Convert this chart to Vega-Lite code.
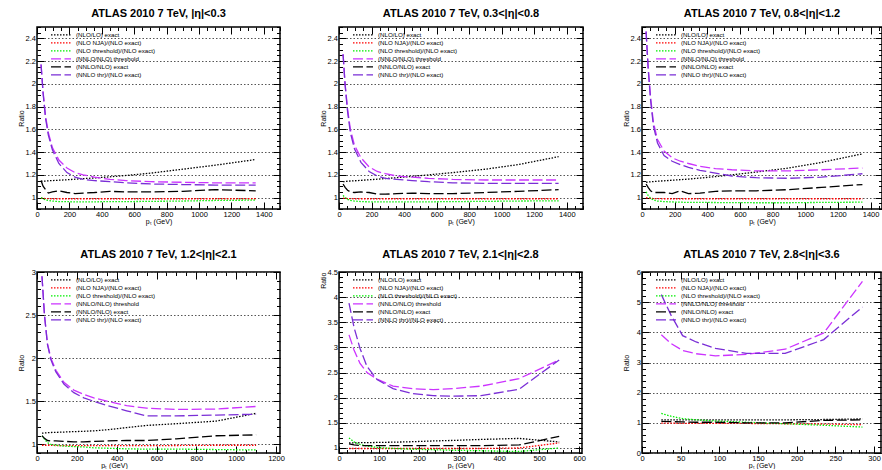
{
"$schema":"https://vega.github.io/schema/vega-lite/v6.json",
"background":"white",
"padding":{"left":16,"top":6,"right":0,"bottom":0},
"config":{
 "font":"Liberation Sans",
 "view":{"stroke":"#000","strokeWidth":1.5},
 "axis":{"domain":false,"format":"~r","labelFont":"Liberation Sans","labelFontSize":7.5,"labelColor":"#000","labelOverlap":false,"labelFlush":false,"titleFont":"Liberation Sans","titleFontSize":7,"titleFontWeight":"normal","titleColor":"#000","tickColor":"#000","tickWidth":1,"tickSize":-7,"labelPadding":8.5,"grid":false,"gridColor":"#555","gridDash":[1.5,2],"gridWidth":1,"titlePadding":-1},
 "title":{"font":"Liberation Sans","fontSize":11,"fontWeight":"bold","color":"#000","anchor":"middle","frame":"group","baseline":"alphabetic","offset":8},
 "legend":{"labelFont":"Liberation Sans","labelFontSize":6.2,"labelColor":"#000","symbolType":"stroke","symbolSize":400,"symbolStrokeWidth":1.3,"clipHeight":7.8,"rowPadding":0,"labelOffset":4,"padding":0,"offset":0},
 "line":{"strokeWidth":1.3,"strokeCap":"butt"}
},
"datasets":{
"p1":[
{"s":"(NLO/LO) exact","x":25,"y":1.143},{"s":"(NLO/LO) exact","x":37.5,"y":1.145},{"s":"(NLO/LO) exact","x":52.5,"y":1.146},{"s":"(NLO/LO) exact","x":70,"y":1.148},{"s":"(NLO/LO) exact","x":95,"y":1.15},{"s":"(NLO/LO) exact","x":135,"y":1.153},{"s":"(NLO/LO) exact","x":185,"y":1.157},{"s":"(NLO/LO) exact","x":235,"y":1.162},{"s":"(NLO/LO) exact","x":285,"y":1.167},{"s":"(NLO/LO) exact","x":355,"y":1.173},{"s":"(NLO/LO) exact","x":450,"y":1.183},{"s":"(NLO/LO) exact","x":550,"y":1.195},{"s":"(NLO/LO) exact","x":700,"y":1.215},{"s":"(NLO/LO) exact","x":900,"y":1.25},{"s":"(NLO/LO) exact","x":1100,"y":1.285},{"s":"(NLO/LO) exact","x":1350,"y":1.335},
{"s":"(NLO NJA)/(NLO exact)","x":25,"y":0.995},{"s":"(NLO NJA)/(NLO exact)","x":37.5,"y":0.993},{"s":"(NLO NJA)/(NLO exact)","x":52.5,"y":0.992},{"s":"(NLO NJA)/(NLO exact)","x":70,"y":0.991},{"s":"(NLO NJA)/(NLO exact)","x":95,"y":0.99},{"s":"(NLO NJA)/(NLO exact)","x":135,"y":0.99},{"s":"(NLO NJA)/(NLO exact)","x":185,"y":0.99},{"s":"(NLO NJA)/(NLO exact)","x":235,"y":0.99},{"s":"(NLO NJA)/(NLO exact)","x":285,"y":0.99},{"s":"(NLO NJA)/(NLO exact)","x":355,"y":0.99},{"s":"(NLO NJA)/(NLO exact)","x":450,"y":0.99},{"s":"(NLO NJA)/(NLO exact)","x":550,"y":0.99},{"s":"(NLO NJA)/(NLO exact)","x":700,"y":0.99},{"s":"(NLO NJA)/(NLO exact)","x":900,"y":0.99},{"s":"(NLO NJA)/(NLO exact)","x":1100,"y":0.99},{"s":"(NLO NJA)/(NLO exact)","x":1350,"y":0.99},
{"s":"(NLO threshold)/(NLO exact)","x":25,"y":1.0},{"s":"(NLO threshold)/(NLO exact)","x":37.5,"y":0.99},{"s":"(NLO threshold)/(NLO exact)","x":52.5,"y":0.98},{"s":"(NLO threshold)/(NLO exact)","x":70,"y":0.975},{"s":"(NLO threshold)/(NLO exact)","x":95,"y":0.97},{"s":"(NLO threshold)/(NLO exact)","x":135,"y":0.965},{"s":"(NLO threshold)/(NLO exact)","x":185,"y":0.965},{"s":"(NLO threshold)/(NLO exact)","x":235,"y":0.962},{"s":"(NLO threshold)/(NLO exact)","x":285,"y":0.962},{"s":"(NLO threshold)/(NLO exact)","x":355,"y":0.963},{"s":"(NLO threshold)/(NLO exact)","x":450,"y":0.965},{"s":"(NLO threshold)/(NLO exact)","x":550,"y":0.965},{"s":"(NLO threshold)/(NLO exact)","x":700,"y":0.967},{"s":"(NLO threshold)/(NLO exact)","x":900,"y":0.97},{"s":"(NLO threshold)/(NLO exact)","x":1100,"y":0.975},{"s":"(NLO threshold)/(NLO exact)","x":1350,"y":0.978},
{"s":"(NNLO/NLO) threshold","x":25,"y":2.17},{"s":"(NNLO/NLO) threshold","x":37.5,"y":1.93},{"s":"(NNLO/NLO) threshold","x":52.5,"y":1.72},{"s":"(NNLO/NLO) threshold","x":70,"y":1.57},{"s":"(NNLO/NLO) threshold","x":95,"y":1.44},{"s":"(NNLO/NLO) threshold","x":135,"y":1.33},{"s":"(NNLO/NLO) threshold","x":185,"y":1.26},{"s":"(NNLO/NLO) threshold","x":235,"y":1.22},{"s":"(NNLO/NLO) threshold","x":285,"y":1.2},{"s":"(NNLO/NLO) threshold","x":355,"y":1.18},{"s":"(NNLO/NLO) threshold","x":450,"y":1.16},{"s":"(NNLO/NLO) threshold","x":550,"y":1.15},{"s":"(NNLO/NLO) threshold","x":700,"y":1.14},{"s":"(NNLO/NLO) threshold","x":900,"y":1.135},{"s":"(NNLO/NLO) threshold","x":1100,"y":1.13},{"s":"(NNLO/NLO) threshold","x":1350,"y":1.13},
{"s":"(NNLO/NLO) exact","x":25,"y":1.15},{"s":"(NNLO/NLO) exact","x":37.5,"y":1.1},{"s":"(NNLO/NLO) exact","x":52.5,"y":1.07},{"s":"(NNLO/NLO) exact","x":70,"y":1.04},{"s":"(NNLO/NLO) exact","x":95,"y":1.05},{"s":"(NNLO/NLO) exact","x":135,"y":1.06},{"s":"(NNLO/NLO) exact","x":185,"y":1.045},{"s":"(NNLO/NLO) exact","x":235,"y":1.035},{"s":"(NNLO/NLO) exact","x":285,"y":1.04},{"s":"(NNLO/NLO) exact","x":355,"y":1.045},{"s":"(NNLO/NLO) exact","x":450,"y":1.055},{"s":"(NNLO/NLO) exact","x":550,"y":1.05},{"s":"(NNLO/NLO) exact","x":700,"y":1.05},{"s":"(NNLO/NLO) exact","x":900,"y":1.055},{"s":"(NNLO/NLO) exact","x":1100,"y":1.07},{"s":"(NNLO/NLO) exact","x":1350,"y":1.06},
{"s":"(NNLO thr)/(NLO exact)","x":25,"y":2.17},{"s":"(NNLO thr)/(NLO exact)","x":37.5,"y":1.92},{"s":"(NNLO thr)/(NLO exact)","x":52.5,"y":1.7},{"s":"(NNLO thr)/(NLO exact)","x":70,"y":1.55},{"s":"(NNLO thr)/(NLO exact)","x":95,"y":1.42},{"s":"(NNLO thr)/(NLO exact)","x":135,"y":1.3},{"s":"(NNLO thr)/(NLO exact)","x":185,"y":1.22},{"s":"(NNLO thr)/(NLO exact)","x":235,"y":1.18},{"s":"(NNLO thr)/(NLO exact)","x":285,"y":1.16},{"s":"(NNLO thr)/(NLO exact)","x":355,"y":1.15},{"s":"(NNLO thr)/(NLO exact)","x":450,"y":1.14},{"s":"(NNLO thr)/(NLO exact)","x":550,"y":1.13},{"s":"(NNLO thr)/(NLO exact)","x":700,"y":1.12},{"s":"(NNLO thr)/(NLO exact)","x":900,"y":1.115},{"s":"(NNLO thr)/(NLO exact)","x":1100,"y":1.11},{"s":"(NNLO thr)/(NLO exact)","x":1350,"y":1.11}
],
"p2":[
{"s":"(NLO/LO) exact","x":25,"y":1.14},{"s":"(NLO/LO) exact","x":37.5,"y":1.142},{"s":"(NLO/LO) exact","x":52.5,"y":1.144},{"s":"(NLO/LO) exact","x":70,"y":1.146},{"s":"(NLO/LO) exact","x":95,"y":1.148},{"s":"(NLO/LO) exact","x":135,"y":1.152},{"s":"(NLO/LO) exact","x":185,"y":1.157},{"s":"(NLO/LO) exact","x":235,"y":1.162},{"s":"(NLO/LO) exact","x":285,"y":1.168},{"s":"(NLO/LO) exact","x":355,"y":1.175},{"s":"(NLO/LO) exact","x":450,"y":1.187},{"s":"(NLO/LO) exact","x":550,"y":1.2},{"s":"(NLO/LO) exact","x":700,"y":1.22},{"s":"(NLO/LO) exact","x":900,"y":1.25},{"s":"(NLO/LO) exact","x":1100,"y":1.29},{"s":"(NLO/LO) exact","x":1350,"y":1.36},
{"s":"(NLO NJA)/(NLO exact)","x":25,"y":0.995},{"s":"(NLO NJA)/(NLO exact)","x":37.5,"y":0.993},{"s":"(NLO NJA)/(NLO exact)","x":52.5,"y":0.992},{"s":"(NLO NJA)/(NLO exact)","x":70,"y":0.991},{"s":"(NLO NJA)/(NLO exact)","x":95,"y":0.99},{"s":"(NLO NJA)/(NLO exact)","x":135,"y":0.99},{"s":"(NLO NJA)/(NLO exact)","x":185,"y":0.99},{"s":"(NLO NJA)/(NLO exact)","x":235,"y":0.99},{"s":"(NLO NJA)/(NLO exact)","x":285,"y":0.99},{"s":"(NLO NJA)/(NLO exact)","x":355,"y":0.99},{"s":"(NLO NJA)/(NLO exact)","x":450,"y":0.99},{"s":"(NLO NJA)/(NLO exact)","x":550,"y":0.99},{"s":"(NLO NJA)/(NLO exact)","x":700,"y":0.99},{"s":"(NLO NJA)/(NLO exact)","x":900,"y":0.99},{"s":"(NLO NJA)/(NLO exact)","x":1100,"y":0.99},{"s":"(NLO NJA)/(NLO exact)","x":1350,"y":0.99},
{"s":"(NLO threshold)/(NLO exact)","x":25,"y":1.02},{"s":"(NLO threshold)/(NLO exact)","x":37.5,"y":1.0},{"s":"(NLO threshold)/(NLO exact)","x":52.5,"y":0.985},{"s":"(NLO threshold)/(NLO exact)","x":70,"y":0.975},{"s":"(NLO threshold)/(NLO exact)","x":95,"y":0.97},{"s":"(NLO threshold)/(NLO exact)","x":135,"y":0.965},{"s":"(NLO threshold)/(NLO exact)","x":185,"y":0.963},{"s":"(NLO threshold)/(NLO exact)","x":235,"y":0.962},{"s":"(NLO threshold)/(NLO exact)","x":285,"y":0.962},{"s":"(NLO threshold)/(NLO exact)","x":355,"y":0.962},{"s":"(NLO threshold)/(NLO exact)","x":450,"y":0.962},{"s":"(NLO threshold)/(NLO exact)","x":550,"y":0.963},{"s":"(NLO threshold)/(NLO exact)","x":700,"y":0.965},{"s":"(NLO threshold)/(NLO exact)","x":900,"y":0.967},{"s":"(NLO threshold)/(NLO exact)","x":1100,"y":0.97},{"s":"(NLO threshold)/(NLO exact)","x":1350,"y":0.972},
{"s":"(NNLO/NLO) threshold","x":25,"y":2.26},{"s":"(NNLO/NLO) threshold","x":37.5,"y":2.0},{"s":"(NNLO/NLO) threshold","x":52.5,"y":1.78},{"s":"(NNLO/NLO) threshold","x":70,"y":1.6},{"s":"(NNLO/NLO) threshold","x":95,"y":1.46},{"s":"(NNLO/NLO) threshold","x":135,"y":1.35},{"s":"(NNLO/NLO) threshold","x":185,"y":1.27},{"s":"(NNLO/NLO) threshold","x":235,"y":1.23},{"s":"(NNLO/NLO) threshold","x":285,"y":1.21},{"s":"(NNLO/NLO) threshold","x":355,"y":1.19},{"s":"(NNLO/NLO) threshold","x":450,"y":1.18},{"s":"(NNLO/NLO) threshold","x":550,"y":1.17},{"s":"(NNLO/NLO) threshold","x":700,"y":1.16},{"s":"(NNLO/NLO) threshold","x":900,"y":1.155},{"s":"(NNLO/NLO) threshold","x":1100,"y":1.155},{"s":"(NNLO/NLO) threshold","x":1350,"y":1.155},
{"s":"(NNLO/NLO) exact","x":25,"y":1.12},{"s":"(NNLO/NLO) exact","x":37.5,"y":1.09},{"s":"(NNLO/NLO) exact","x":52.5,"y":1.065},{"s":"(NNLO/NLO) exact","x":70,"y":1.05},{"s":"(NNLO/NLO) exact","x":95,"y":1.045},{"s":"(NNLO/NLO) exact","x":135,"y":1.05},{"s":"(NNLO/NLO) exact","x":185,"y":1.045},{"s":"(NNLO/NLO) exact","x":235,"y":1.03},{"s":"(NNLO/NLO) exact","x":285,"y":1.03},{"s":"(NNLO/NLO) exact","x":355,"y":1.035},{"s":"(NNLO/NLO) exact","x":450,"y":1.04},{"s":"(NNLO/NLO) exact","x":550,"y":1.035},{"s":"(NNLO/NLO) exact","x":700,"y":1.035},{"s":"(NNLO/NLO) exact","x":900,"y":1.045},{"s":"(NNLO/NLO) exact","x":1100,"y":1.055},{"s":"(NNLO/NLO) exact","x":1350,"y":1.07},
{"s":"(NNLO thr)/(NLO exact)","x":25,"y":2.26},{"s":"(NNLO thr)/(NLO exact)","x":37.5,"y":1.99},{"s":"(NNLO thr)/(NLO exact)","x":52.5,"y":1.76},{"s":"(NNLO thr)/(NLO exact)","x":70,"y":1.57},{"s":"(NNLO thr)/(NLO exact)","x":95,"y":1.43},{"s":"(NNLO thr)/(NLO exact)","x":135,"y":1.31},{"s":"(NNLO thr)/(NLO exact)","x":185,"y":1.23},{"s":"(NNLO thr)/(NLO exact)","x":235,"y":1.19},{"s":"(NNLO thr)/(NLO exact)","x":285,"y":1.17},{"s":"(NNLO thr)/(NLO exact)","x":355,"y":1.16},{"s":"(NNLO thr)/(NLO exact)","x":450,"y":1.15},{"s":"(NNLO thr)/(NLO exact)","x":550,"y":1.14},{"s":"(NNLO thr)/(NLO exact)","x":700,"y":1.13},{"s":"(NNLO thr)/(NLO exact)","x":900,"y":1.125},{"s":"(NNLO thr)/(NLO exact)","x":1100,"y":1.125},{"s":"(NNLO thr)/(NLO exact)","x":1350,"y":1.125}
],
"p3":[
{"s":"(NLO/LO) exact","x":25,"y":1.135},{"s":"(NLO/LO) exact","x":37.5,"y":1.137},{"s":"(NLO/LO) exact","x":52.5,"y":1.139},{"s":"(NLO/LO) exact","x":70,"y":1.141},{"s":"(NLO/LO) exact","x":95,"y":1.144},{"s":"(NLO/LO) exact","x":135,"y":1.148},{"s":"(NLO/LO) exact","x":185,"y":1.153},{"s":"(NLO/LO) exact","x":235,"y":1.158},{"s":"(NLO/LO) exact","x":285,"y":1.163},{"s":"(NLO/LO) exact","x":355,"y":1.172},{"s":"(NLO/LO) exact","x":450,"y":1.185},{"s":"(NLO/LO) exact","x":550,"y":1.2},{"s":"(NLO/LO) exact","x":700,"y":1.225},{"s":"(NLO/LO) exact","x":900,"y":1.26},{"s":"(NLO/LO) exact","x":1100,"y":1.31},{"s":"(NLO/LO) exact","x":1350,"y":1.385},
{"s":"(NLO NJA)/(NLO exact)","x":25,"y":1.0},{"s":"(NLO NJA)/(NLO exact)","x":37.5,"y":0.995},{"s":"(NLO NJA)/(NLO exact)","x":52.5,"y":0.993},{"s":"(NLO NJA)/(NLO exact)","x":70,"y":0.992},{"s":"(NLO NJA)/(NLO exact)","x":95,"y":0.991},{"s":"(NLO NJA)/(NLO exact)","x":135,"y":0.99},{"s":"(NLO NJA)/(NLO exact)","x":185,"y":0.99},{"s":"(NLO NJA)/(NLO exact)","x":235,"y":0.99},{"s":"(NLO NJA)/(NLO exact)","x":285,"y":0.99},{"s":"(NLO NJA)/(NLO exact)","x":355,"y":0.99},{"s":"(NLO NJA)/(NLO exact)","x":450,"y":0.99},{"s":"(NLO NJA)/(NLO exact)","x":550,"y":0.99},{"s":"(NLO NJA)/(NLO exact)","x":700,"y":0.99},{"s":"(NLO NJA)/(NLO exact)","x":900,"y":0.99},{"s":"(NLO NJA)/(NLO exact)","x":1100,"y":0.99},{"s":"(NLO NJA)/(NLO exact)","x":1350,"y":0.99},
{"s":"(NLO threshold)/(NLO exact)","x":25,"y":1.05},{"s":"(NLO threshold)/(NLO exact)","x":37.5,"y":1.02},{"s":"(NLO threshold)/(NLO exact)","x":52.5,"y":0.995},{"s":"(NLO threshold)/(NLO exact)","x":70,"y":0.98},{"s":"(NLO threshold)/(NLO exact)","x":95,"y":0.97},{"s":"(NLO threshold)/(NLO exact)","x":135,"y":0.965},{"s":"(NLO threshold)/(NLO exact)","x":185,"y":0.962},{"s":"(NLO threshold)/(NLO exact)","x":235,"y":0.96},{"s":"(NLO threshold)/(NLO exact)","x":285,"y":0.958},{"s":"(NLO threshold)/(NLO exact)","x":355,"y":0.958},{"s":"(NLO threshold)/(NLO exact)","x":450,"y":0.957},{"s":"(NLO threshold)/(NLO exact)","x":550,"y":0.956},{"s":"(NLO threshold)/(NLO exact)","x":700,"y":0.955},{"s":"(NLO threshold)/(NLO exact)","x":900,"y":0.955},{"s":"(NLO threshold)/(NLO exact)","x":1100,"y":0.958},{"s":"(NLO threshold)/(NLO exact)","x":1350,"y":0.96},
{"s":"(NNLO/NLO) threshold","x":25,"y":2.46},{"s":"(NNLO/NLO) threshold","x":37.5,"y":2.15},{"s":"(NNLO/NLO) threshold","x":52.5,"y":1.88},{"s":"(NNLO/NLO) threshold","x":70,"y":1.66},{"s":"(NNLO/NLO) threshold","x":95,"y":1.51},{"s":"(NNLO/NLO) threshold","x":135,"y":1.41},{"s":"(NNLO/NLO) threshold","x":185,"y":1.35},{"s":"(NNLO/NLO) threshold","x":235,"y":1.32},{"s":"(NNLO/NLO) threshold","x":285,"y":1.3},{"s":"(NNLO/NLO) threshold","x":355,"y":1.275},{"s":"(NNLO/NLO) threshold","x":450,"y":1.255},{"s":"(NNLO/NLO) threshold","x":550,"y":1.245},{"s":"(NNLO/NLO) threshold","x":700,"y":1.235},{"s":"(NNLO/NLO) threshold","x":900,"y":1.235},{"s":"(NNLO/NLO) threshold","x":1100,"y":1.245},{"s":"(NNLO/NLO) threshold","x":1350,"y":1.26},
{"s":"(NNLO/NLO) exact","x":25,"y":1.12},{"s":"(NNLO/NLO) exact","x":37.5,"y":1.09},{"s":"(NNLO/NLO) exact","x":52.5,"y":1.06},{"s":"(NNLO/NLO) exact","x":70,"y":1.045},{"s":"(NNLO/NLO) exact","x":95,"y":1.045},{"s":"(NNLO/NLO) exact","x":135,"y":1.045},{"s":"(NNLO/NLO) exact","x":185,"y":1.035},{"s":"(NNLO/NLO) exact","x":235,"y":1.06},{"s":"(NNLO/NLO) exact","x":285,"y":1.035},{"s":"(NNLO/NLO) exact","x":355,"y":1.04},{"s":"(NNLO/NLO) exact","x":450,"y":1.055},{"s":"(NNLO/NLO) exact","x":550,"y":1.06},{"s":"(NNLO/NLO) exact","x":700,"y":1.06},{"s":"(NNLO/NLO) exact","x":900,"y":1.07},{"s":"(NNLO/NLO) exact","x":1100,"y":1.09},{"s":"(NNLO/NLO) exact","x":1350,"y":1.115},
{"s":"(NNLO thr)/(NLO exact)","x":25,"y":2.46},{"s":"(NNLO thr)/(NLO exact)","x":37.5,"y":2.14},{"s":"(NNLO thr)/(NLO exact)","x":52.5,"y":1.86},{"s":"(NNLO thr)/(NLO exact)","x":70,"y":1.63},{"s":"(NNLO thr)/(NLO exact)","x":95,"y":1.48},{"s":"(NNLO thr)/(NLO exact)","x":135,"y":1.37},{"s":"(NNLO thr)/(NLO exact)","x":185,"y":1.32},{"s":"(NNLO thr)/(NLO exact)","x":235,"y":1.29},{"s":"(NNLO thr)/(NLO exact)","x":285,"y":1.265},{"s":"(NNLO thr)/(NLO exact)","x":355,"y":1.24},{"s":"(NNLO thr)/(NLO exact)","x":450,"y":1.215},{"s":"(NNLO thr)/(NLO exact)","x":550,"y":1.19},{"s":"(NNLO thr)/(NLO exact)","x":700,"y":1.175},{"s":"(NNLO thr)/(NLO exact)","x":900,"y":1.17},{"s":"(NNLO thr)/(NLO exact)","x":1100,"y":1.18},{"s":"(NNLO thr)/(NLO exact)","x":1350,"y":1.21}
],
"p4":[
{"s":"(NLO/LO) exact","x":25,"y":1.13},{"s":"(NLO/LO) exact","x":37.5,"y":1.132},{"s":"(NLO/LO) exact","x":52.5,"y":1.135},{"s":"(NLO/LO) exact","x":70,"y":1.138},{"s":"(NLO/LO) exact","x":95,"y":1.14},{"s":"(NLO/LO) exact","x":135,"y":1.143},{"s":"(NLO/LO) exact","x":185,"y":1.148},{"s":"(NLO/LO) exact","x":235,"y":1.152},{"s":"(NLO/LO) exact","x":285,"y":1.157},{"s":"(NLO/LO) exact","x":355,"y":1.17},{"s":"(NLO/LO) exact","x":450,"y":1.195},{"s":"(NLO/LO) exact","x":550,"y":1.22},{"s":"(NLO/LO) exact","x":700,"y":1.24},{"s":"(NLO/LO) exact","x":900,"y":1.27},{"s":"(NLO/LO) exact","x":1100,"y":1.36},
{"s":"(NLO NJA)/(NLO exact)","x":25,"y":0.99},{"s":"(NLO NJA)/(NLO exact)","x":37.5,"y":0.99},{"s":"(NLO NJA)/(NLO exact)","x":52.5,"y":0.99},{"s":"(NLO NJA)/(NLO exact)","x":70,"y":0.988},{"s":"(NLO NJA)/(NLO exact)","x":95,"y":0.987},{"s":"(NLO NJA)/(NLO exact)","x":135,"y":0.986},{"s":"(NLO NJA)/(NLO exact)","x":185,"y":0.985},{"s":"(NLO NJA)/(NLO exact)","x":235,"y":0.985},{"s":"(NLO NJA)/(NLO exact)","x":285,"y":0.985},{"s":"(NLO NJA)/(NLO exact)","x":355,"y":0.985},{"s":"(NLO NJA)/(NLO exact)","x":450,"y":0.985},{"s":"(NLO NJA)/(NLO exact)","x":550,"y":0.985},{"s":"(NLO NJA)/(NLO exact)","x":700,"y":0.987},{"s":"(NLO NJA)/(NLO exact)","x":900,"y":0.99},{"s":"(NLO NJA)/(NLO exact)","x":1100,"y":0.99},
{"s":"(NLO threshold)/(NLO exact)","x":25,"y":1.1},{"s":"(NLO threshold)/(NLO exact)","x":37.5,"y":1.06},{"s":"(NLO threshold)/(NLO exact)","x":52.5,"y":1.02},{"s":"(NLO threshold)/(NLO exact)","x":70,"y":1.0},{"s":"(NLO threshold)/(NLO exact)","x":95,"y":0.99},{"s":"(NLO threshold)/(NLO exact)","x":135,"y":0.98},{"s":"(NLO threshold)/(NLO exact)","x":185,"y":0.975},{"s":"(NLO threshold)/(NLO exact)","x":235,"y":0.97},{"s":"(NLO threshold)/(NLO exact)","x":285,"y":0.96},{"s":"(NLO threshold)/(NLO exact)","x":355,"y":0.955},{"s":"(NLO threshold)/(NLO exact)","x":450,"y":0.948},{"s":"(NLO threshold)/(NLO exact)","x":550,"y":0.945},{"s":"(NLO threshold)/(NLO exact)","x":700,"y":0.945},{"s":"(NLO threshold)/(NLO exact)","x":900,"y":0.94},{"s":"(NLO threshold)/(NLO exact)","x":1100,"y":0.935},
{"s":"(NNLO/NLO) threshold","x":25,"y":2.95},{"s":"(NNLO/NLO) threshold","x":37.5,"y":2.5},{"s":"(NNLO/NLO) threshold","x":52.5,"y":2.17},{"s":"(NNLO/NLO) threshold","x":70,"y":2.0},{"s":"(NNLO/NLO) threshold","x":95,"y":1.86},{"s":"(NNLO/NLO) threshold","x":135,"y":1.72},{"s":"(NNLO/NLO) threshold","x":185,"y":1.63},{"s":"(NNLO/NLO) threshold","x":235,"y":1.58},{"s":"(NNLO/NLO) threshold","x":285,"y":1.54},{"s":"(NNLO/NLO) threshold","x":355,"y":1.5},{"s":"(NNLO/NLO) threshold","x":450,"y":1.45},{"s":"(NNLO/NLO) threshold","x":550,"y":1.42},{"s":"(NNLO/NLO) threshold","x":700,"y":1.405},{"s":"(NNLO/NLO) threshold","x":900,"y":1.41},{"s":"(NNLO/NLO) threshold","x":1100,"y":1.44},
{"s":"(NNLO/NLO) exact","x":25,"y":1.1},{"s":"(NNLO/NLO) exact","x":37.5,"y":1.07},{"s":"(NNLO/NLO) exact","x":52.5,"y":1.045},{"s":"(NNLO/NLO) exact","x":70,"y":1.04},{"s":"(NNLO/NLO) exact","x":95,"y":1.04},{"s":"(NNLO/NLO) exact","x":135,"y":1.035},{"s":"(NNLO/NLO) exact","x":185,"y":1.03},{"s":"(NNLO/NLO) exact","x":235,"y":1.03},{"s":"(NNLO/NLO) exact","x":285,"y":1.035},{"s":"(NNLO/NLO) exact","x":355,"y":1.04},{"s":"(NNLO/NLO) exact","x":450,"y":1.045},{"s":"(NNLO/NLO) exact","x":550,"y":1.045},{"s":"(NNLO/NLO) exact","x":700,"y":1.065},{"s":"(NNLO/NLO) exact","x":900,"y":1.1},{"s":"(NNLO/NLO) exact","x":1100,"y":1.11},
{"s":"(NNLO thr)/(NLO exact)","x":25,"y":2.95},{"s":"(NNLO thr)/(NLO exact)","x":37.5,"y":2.5},{"s":"(NNLO thr)/(NLO exact)","x":52.5,"y":2.16},{"s":"(NNLO thr)/(NLO exact)","x":70,"y":1.98},{"s":"(NNLO thr)/(NLO exact)","x":95,"y":1.84},{"s":"(NNLO thr)/(NLO exact)","x":135,"y":1.7},{"s":"(NNLO thr)/(NLO exact)","x":185,"y":1.6},{"s":"(NNLO thr)/(NLO exact)","x":235,"y":1.54},{"s":"(NNLO thr)/(NLO exact)","x":285,"y":1.5},{"s":"(NNLO thr)/(NLO exact)","x":355,"y":1.45},{"s":"(NNLO thr)/(NLO exact)","x":450,"y":1.39},{"s":"(NNLO thr)/(NLO exact)","x":550,"y":1.33},{"s":"(NNLO thr)/(NLO exact)","x":700,"y":1.33},{"s":"(NNLO thr)/(NLO exact)","x":900,"y":1.34},{"s":"(NNLO thr)/(NLO exact)","x":1100,"y":1.35}
],
"p5":[
{"s":"(NLO/LO) exact","x":25,"y":1.1},{"s":"(NLO/LO) exact","x":37.5,"y":1.1},{"s":"(NLO/LO) exact","x":52.5,"y":1.105},{"s":"(NLO/LO) exact","x":70,"y":1.105},{"s":"(NLO/LO) exact","x":95,"y":1.11},{"s":"(NLO/LO) exact","x":135,"y":1.115},{"s":"(NLO/LO) exact","x":185,"y":1.125},{"s":"(NLO/LO) exact","x":235,"y":1.14},{"s":"(NLO/LO) exact","x":285,"y":1.15},{"s":"(NLO/LO) exact","x":355,"y":1.17},{"s":"(NLO/LO) exact","x":450,"y":1.19},{"s":"(NLO/LO) exact","x":550,"y":1.12},
{"s":"(NLO NJA)/(NLO exact)","x":25,"y":0.99},{"s":"(NLO NJA)/(NLO exact)","x":37.5,"y":0.99},{"s":"(NLO NJA)/(NLO exact)","x":52.5,"y":0.99},{"s":"(NLO NJA)/(NLO exact)","x":70,"y":0.99},{"s":"(NLO NJA)/(NLO exact)","x":95,"y":0.99},{"s":"(NLO NJA)/(NLO exact)","x":135,"y":0.99},{"s":"(NLO NJA)/(NLO exact)","x":185,"y":0.99},{"s":"(NLO NJA)/(NLO exact)","x":235,"y":0.99},{"s":"(NLO NJA)/(NLO exact)","x":285,"y":0.99},{"s":"(NLO NJA)/(NLO exact)","x":355,"y":0.99},{"s":"(NLO NJA)/(NLO exact)","x":450,"y":1.0},{"s":"(NLO NJA)/(NLO exact)","x":550,"y":1.1},
{"s":"(NLO threshold)/(NLO exact)","x":25,"y":1.2},{"s":"(NLO threshold)/(NLO exact)","x":37.5,"y":1.12},{"s":"(NLO threshold)/(NLO exact)","x":52.5,"y":1.07},{"s":"(NLO threshold)/(NLO exact)","x":70,"y":1.04},{"s":"(NLO threshold)/(NLO exact)","x":95,"y":1.01},{"s":"(NLO threshold)/(NLO exact)","x":135,"y":0.99},{"s":"(NLO threshold)/(NLO exact)","x":185,"y":0.975},{"s":"(NLO threshold)/(NLO exact)","x":235,"y":0.965},{"s":"(NLO threshold)/(NLO exact)","x":285,"y":0.955},{"s":"(NLO threshold)/(NLO exact)","x":355,"y":0.945},{"s":"(NLO threshold)/(NLO exact)","x":450,"y":0.93},{"s":"(NLO threshold)/(NLO exact)","x":550,"y":1.0},
{"s":"(NNLO/NLO) threshold","x":25,"y":3.25},{"s":"(NNLO/NLO) threshold","x":37.5,"y":2.95},{"s":"(NNLO/NLO) threshold","x":52.5,"y":2.68},{"s":"(NNLO/NLO) threshold","x":70,"y":2.5},{"s":"(NNLO/NLO) threshold","x":95,"y":2.37},{"s":"(NNLO/NLO) threshold","x":135,"y":2.23},{"s":"(NNLO/NLO) threshold","x":185,"y":2.18},{"s":"(NNLO/NLO) threshold","x":235,"y":2.16},{"s":"(NNLO/NLO) threshold","x":285,"y":2.18},{"s":"(NNLO/NLO) threshold","x":355,"y":2.23},{"s":"(NNLO/NLO) threshold","x":450,"y":2.38},{"s":"(NNLO/NLO) threshold","x":550,"y":2.75},
{"s":"(NNLO/NLO) exact","x":25,"y":1.08},{"s":"(NNLO/NLO) exact","x":37.5,"y":1.06},{"s":"(NNLO/NLO) exact","x":52.5,"y":1.05},{"s":"(NNLO/NLO) exact","x":70,"y":1.045},{"s":"(NNLO/NLO) exact","x":95,"y":1.045},{"s":"(NNLO/NLO) exact","x":135,"y":1.045},{"s":"(NNLO/NLO) exact","x":185,"y":1.045},{"s":"(NNLO/NLO) exact","x":235,"y":1.045},{"s":"(NNLO/NLO) exact","x":285,"y":1.045},{"s":"(NNLO/NLO) exact","x":355,"y":1.045},{"s":"(NNLO/NLO) exact","x":450,"y":1.06},{"s":"(NNLO/NLO) exact","x":550,"y":1.23},
{"s":"(NNLO thr)/(NLO exact)","x":25,"y":3.88},{"s":"(NNLO thr)/(NLO exact)","x":37.5,"y":3.4},{"s":"(NNLO thr)/(NLO exact)","x":52.5,"y":2.98},{"s":"(NNLO thr)/(NLO exact)","x":70,"y":2.62},{"s":"(NNLO thr)/(NLO exact)","x":95,"y":2.36},{"s":"(NNLO thr)/(NLO exact)","x":135,"y":2.18},{"s":"(NNLO thr)/(NLO exact)","x":185,"y":2.08},{"s":"(NNLO thr)/(NLO exact)","x":235,"y":2.04},{"s":"(NNLO thr)/(NLO exact)","x":285,"y":2.03},{"s":"(NNLO thr)/(NLO exact)","x":355,"y":2.04},{"s":"(NNLO thr)/(NLO exact)","x":450,"y":2.17},{"s":"(NNLO thr)/(NLO exact)","x":550,"y":2.75}
],
"p6":[
{"s":"(NLO/LO) exact","x":25,"y":1.1},{"s":"(NLO/LO) exact","x":37.5,"y":1.1},{"s":"(NLO/LO) exact","x":52.5,"y":1.1},{"s":"(NLO/LO) exact","x":70,"y":1.1},{"s":"(NLO/LO) exact","x":95,"y":1.1},{"s":"(NLO/LO) exact","x":135,"y":1.1},{"s":"(NLO/LO) exact","x":185,"y":1.1},{"s":"(NLO/LO) exact","x":235,"y":1.11},{"s":"(NLO/LO) exact","x":285,"y":1.13},
{"s":"(NLO NJA)/(NLO exact)","x":25,"y":0.99},{"s":"(NLO NJA)/(NLO exact)","x":37.5,"y":0.99},{"s":"(NLO NJA)/(NLO exact)","x":52.5,"y":0.98},{"s":"(NLO NJA)/(NLO exact)","x":70,"y":0.98},{"s":"(NLO NJA)/(NLO exact)","x":95,"y":0.98},{"s":"(NLO NJA)/(NLO exact)","x":135,"y":0.98},{"s":"(NLO NJA)/(NLO exact)","x":185,"y":0.97},{"s":"(NLO NJA)/(NLO exact)","x":235,"y":0.96},{"s":"(NLO NJA)/(NLO exact)","x":285,"y":0.94},
{"s":"(NLO threshold)/(NLO exact)","x":25,"y":1.31},{"s":"(NLO threshold)/(NLO exact)","x":37.5,"y":1.22},{"s":"(NLO threshold)/(NLO exact)","x":52.5,"y":1.14},{"s":"(NLO threshold)/(NLO exact)","x":70,"y":1.1},{"s":"(NLO threshold)/(NLO exact)","x":95,"y":1.06},{"s":"(NLO threshold)/(NLO exact)","x":135,"y":1.02},{"s":"(NLO threshold)/(NLO exact)","x":185,"y":0.97},{"s":"(NLO threshold)/(NLO exact)","x":235,"y":0.92},{"s":"(NLO threshold)/(NLO exact)","x":285,"y":0.86},
{"s":"(NNLO/NLO) threshold","x":25,"y":3.92},{"s":"(NNLO/NLO) threshold","x":37.5,"y":3.63},{"s":"(NNLO/NLO) threshold","x":52.5,"y":3.4},{"s":"(NNLO/NLO) threshold","x":70,"y":3.29},{"s":"(NNLO/NLO) threshold","x":95,"y":3.22},{"s":"(NNLO/NLO) threshold","x":135,"y":3.27},{"s":"(NNLO/NLO) threshold","x":185,"y":3.44},{"s":"(NNLO/NLO) threshold","x":235,"y":3.98},{"s":"(NNLO/NLO) threshold","x":285,"y":5.69},
{"s":"(NNLO/NLO) exact","x":25,"y":1.05},{"s":"(NNLO/NLO) exact","x":37.5,"y":1.04},{"s":"(NNLO/NLO) exact","x":52.5,"y":1.03},{"s":"(NNLO/NLO) exact","x":70,"y":1.02},{"s":"(NNLO/NLO) exact","x":95,"y":1.02},{"s":"(NNLO/NLO) exact","x":135,"y":1.0},{"s":"(NNLO/NLO) exact","x":185,"y":1.0},{"s":"(NNLO/NLO) exact","x":235,"y":1.08},{"s":"(NNLO/NLO) exact","x":285,"y":1.1},
{"s":"(NNLO thr)/(NLO exact)","x":25,"y":5.25},{"s":"(NNLO thr)/(NLO exact)","x":37.5,"y":4.57},{"s":"(NNLO thr)/(NLO exact)","x":52.5,"y":3.89},{"s":"(NNLO thr)/(NLO exact)","x":70,"y":3.68},{"s":"(NNLO thr)/(NLO exact)","x":95,"y":3.47},{"s":"(NNLO thr)/(NLO exact)","x":135,"y":3.3},{"s":"(NNLO thr)/(NLO exact)","x":185,"y":3.3},{"s":"(NNLO thr)/(NLO exact)","x":235,"y":3.76},{"s":"(NNLO thr)/(NLO exact)","x":285,"y":4.84}
]
},
"columns":3,
"spacing":{"row":63,"column":59},
"bounds":"flush",
"resolve":{"scale":{"color":"independent","strokeDash":"independent"},"legend":{"color":"independent","strokeDash":"independent"}},
"concat":[
{"width":243,"height":182,"title":"ATLAS 2010 7 TeV, |η|<0.3","data":{"name":"p1"},
 "layer":[
  {"mark":{"type":"line","clip":true},"encoding":{
   "x":{"field":"x","type":"quantitative","scale":{"domain":[0,1500],"nice":false,"zero":false},"axis":{"values":[0,200,400,600,800,1000,1200,1400],"title":"pₜ (GeV)"}},
   "y":{"field":"y","type":"quantitative","scale":{"domain":[0.9,2.5],"nice":false,"zero":false},"axis":{"values":[1,1.2,1.4,1.6,1.8,2,2.2,2.4],"grid":true,"title":"Ratio","titleX":-16,"titleBaseline":"middle"}},
   "color":{"field":"s","type":"nominal","scale":{"domain":["(NLO/LO) exact","(NLO NJA)/(NLO exact)","(NLO threshold)/(NLO exact)","(NNLO/NLO) threshold","(NNLO/NLO) exact","(NNLO thr)/(NLO exact)"],"range":["#000000","#ff0000","#00ee00","#cc33ff","#000000","#7a2ed6"]},"legend":{"title":null,"orient":"none","legendX":13,"legendY":4}},
   "strokeDash":{"field":"s","type":"nominal","scale":{"domain":["(NLO/LO) exact","(NLO NJA)/(NLO exact)","(NLO threshold)/(NLO exact)","(NNLO/NLO) threshold","(NNLO/NLO) exact","(NNLO thr)/(NLO exact)"],"range":[[1.5,1.5],[1.5,1.5],[1.5,1.5],[10,3.5],[10,3.5],[10,3.5]]},"legend":{"title":null,"orient":"none","legendX":13,"legendY":4}}}},
  {"mark":{"type":"point","opacity":0},"encoding":{
   "x":{"field":"x","type":"quantitative","scale":{"domain":[0,1500],"nice":false,"zero":false},"axis":{"orient":"top","values":[0,200,400,600,800,1000,1200,1400],"labels":false,"title":null}},
   "y":{"field":"y","type":"quantitative","scale":{"domain":[0.9,2.5],"nice":false,"zero":false},"axis":{"orient":"right","values":[1,1.2,1.4,1.6,1.8,2,2.2,2.4],"labels":false,"title":null}}}},
  {"mark":{"type":"point","opacity":0},"encoding":{
   "x":{"field":"x","type":"quantitative","scale":{"domain":[0,1500],"nice":false,"zero":false},"axis":{"orient":"bottom","values":[0,50,100,150,200,250,300,350,400,450,500,550,600,650,700,750,800,850,900,950,1000,1050,1100,1150,1200,1250,1300,1350,1400,1450,1500],"labels":false,"title":null,"tickSize":-3.5}},
   "y":{"field":"y","type":"quantitative","scale":{"domain":[0.9,2.5],"nice":false,"zero":false},"axis":{"orient":"left","values":[0.9,0.95,1,1.05,1.1,1.15,1.2,1.25,1.3,1.35,1.4,1.45,1.5,1.55,1.6,1.65,1.7,1.75,1.8,1.85,1.9,1.95,2,2.05,2.1,2.15,2.2,2.25,2.3,2.35,2.4,2.45,2.5],"labels":false,"title":null,"tickSize":-3.5}}}},
  {"mark":{"type":"point","opacity":0},"encoding":{
   "x":{"field":"x","type":"quantitative","scale":{"domain":[0,1500],"nice":false,"zero":false},"axis":{"orient":"top","values":[0,50,100,150,200,250,300,350,400,450,500,550,600,650,700,750,800,850,900,950,1000,1050,1100,1150,1200,1250,1300,1350,1400,1450,1500],"labels":false,"title":null,"tickSize":-3.5}},
   "y":{"field":"y","type":"quantitative","scale":{"domain":[0.9,2.5],"nice":false,"zero":false},"axis":{"orient":"right","values":[0.9,0.95,1,1.05,1.1,1.15,1.2,1.25,1.3,1.35,1.4,1.45,1.5,1.55,1.6,1.65,1.7,1.75,1.8,1.85,1.9,1.95,2,2.05,2.1,2.15,2.2,2.25,2.3,2.35,2.4,2.45,2.5],"labels":false,"title":null,"tickSize":-3.5}}}}
 ],
 "resolve":{"axis":{"x":"independent","y":"independent"}}},
{"width":244,"height":182,"title":"ATLAS 2010 7 TeV, 0.3<|η|<0.8","data":{"name":"p2"},
 "layer":[
  {"mark":{"type":"line","clip":true},"encoding":{
   "x":{"field":"x","type":"quantitative","scale":{"domain":[0,1500],"nice":false,"zero":false},"axis":{"values":[0,200,400,600,800,1000,1200,1400],"title":"pₜ (GeV)"}},
   "y":{"field":"y","type":"quantitative","scale":{"domain":[0.9,2.5],"nice":false,"zero":false},"axis":{"values":[1,1.2,1.4,1.6,1.8,2,2.2,2.4],"grid":true,"title":"Ratio","titleX":-16,"titleBaseline":"middle"}},
   "color":{"field":"s","type":"nominal","scale":{"domain":["(NLO/LO) exact","(NLO NJA)/(NLO exact)","(NLO threshold)/(NLO exact)","(NNLO/NLO) threshold","(NNLO/NLO) exact","(NNLO thr)/(NLO exact)"],"range":["#000000","#ff0000","#00ee00","#cc33ff","#000000","#7a2ed6"]},"legend":{"title":null,"orient":"none","legendX":13,"legendY":4}},
   "strokeDash":{"field":"s","type":"nominal","scale":{"domain":["(NLO/LO) exact","(NLO NJA)/(NLO exact)","(NLO threshold)/(NLO exact)","(NNLO/NLO) threshold","(NNLO/NLO) exact","(NNLO thr)/(NLO exact)"],"range":[[1.5,1.5],[1.5,1.5],[1.5,1.5],[10,3.5],[10,3.5],[10,3.5]]},"legend":{"title":null,"orient":"none","legendX":13,"legendY":4}}}},
  {"mark":{"type":"point","opacity":0},"encoding":{
   "x":{"field":"x","type":"quantitative","scale":{"domain":[0,1500],"nice":false,"zero":false},"axis":{"orient":"top","values":[0,200,400,600,800,1000,1200,1400],"labels":false,"title":null}},
   "y":{"field":"y","type":"quantitative","scale":{"domain":[0.9,2.5],"nice":false,"zero":false},"axis":{"orient":"right","values":[1,1.2,1.4,1.6,1.8,2,2.2,2.4],"labels":false,"title":null}}}},
  {"mark":{"type":"point","opacity":0},"encoding":{
   "x":{"field":"x","type":"quantitative","scale":{"domain":[0,1500],"nice":false,"zero":false},"axis":{"orient":"bottom","values":[0,50,100,150,200,250,300,350,400,450,500,550,600,650,700,750,800,850,900,950,1000,1050,1100,1150,1200,1250,1300,1350,1400,1450,1500],"labels":false,"title":null,"tickSize":-3.5}},
   "y":{"field":"y","type":"quantitative","scale":{"domain":[0.9,2.5],"nice":false,"zero":false},"axis":{"orient":"left","values":[0.9,0.95,1,1.05,1.1,1.15,1.2,1.25,1.3,1.35,1.4,1.45,1.5,1.55,1.6,1.65,1.7,1.75,1.8,1.85,1.9,1.95,2,2.05,2.1,2.15,2.2,2.25,2.3,2.35,2.4,2.45,2.5],"labels":false,"title":null,"tickSize":-3.5}}}},
  {"mark":{"type":"point","opacity":0},"encoding":{
   "x":{"field":"x","type":"quantitative","scale":{"domain":[0,1500],"nice":false,"zero":false},"axis":{"orient":"top","values":[0,50,100,150,200,250,300,350,400,450,500,550,600,650,700,750,800,850,900,950,1000,1050,1100,1150,1200,1250,1300,1350,1400,1450,1500],"labels":false,"title":null,"tickSize":-3.5}},
   "y":{"field":"y","type":"quantitative","scale":{"domain":[0.9,2.5],"nice":false,"zero":false},"axis":{"orient":"right","values":[0.9,0.95,1,1.05,1.1,1.15,1.2,1.25,1.3,1.35,1.4,1.45,1.5,1.55,1.6,1.65,1.7,1.75,1.8,1.85,1.9,1.95,2,2.05,2.1,2.15,2.2,2.25,2.3,2.35,2.4,2.45,2.5],"labels":false,"title":null,"tickSize":-3.5}}}}
 ],
 "resolve":{"axis":{"x":"independent","y":"independent"}}},
{"width":240,"height":182,"title":"ATLAS 2010 7 TeV, 0.8<|η|<1.2","data":{"name":"p3"},
 "layer":[
  {"mark":{"type":"line","clip":true},"encoding":{
   "x":{"field":"x","type":"quantitative","scale":{"domain":[0,1470],"nice":false,"zero":false},"axis":{"values":[0,200,400,600,800,1000,1200,1400],"title":"pₜ (GeV)"}},
   "y":{"field":"y","type":"quantitative","scale":{"domain":[0.9,2.5],"nice":false,"zero":false},"axis":{"values":[1,1.2,1.4,1.6,1.8,2,2.2,2.4],"grid":true,"title":"Ratio","titleX":-16,"titleBaseline":"middle"}},
   "color":{"field":"s","type":"nominal","scale":{"domain":["(NLO/LO) exact","(NLO NJA)/(NLO exact)","(NLO threshold)/(NLO exact)","(NNLO/NLO) threshold","(NNLO/NLO) exact","(NNLO thr)/(NLO exact)"],"range":["#000000","#ff0000","#00ee00","#cc33ff","#000000","#7a2ed6"]},"legend":{"title":null,"orient":"none","legendX":13,"legendY":4}},
   "strokeDash":{"field":"s","type":"nominal","scale":{"domain":["(NLO/LO) exact","(NLO NJA)/(NLO exact)","(NLO threshold)/(NLO exact)","(NNLO/NLO) threshold","(NNLO/NLO) exact","(NNLO thr)/(NLO exact)"],"range":[[1.5,1.5],[1.5,1.5],[1.5,1.5],[10,3.5],[10,3.5],[10,3.5]]},"legend":{"title":null,"orient":"none","legendX":13,"legendY":4}}}},
  {"mark":{"type":"point","opacity":0},"encoding":{
   "x":{"field":"x","type":"quantitative","scale":{"domain":[0,1470],"nice":false,"zero":false},"axis":{"orient":"top","values":[0,200,400,600,800,1000,1200,1400],"labels":false,"title":null}},
   "y":{"field":"y","type":"quantitative","scale":{"domain":[0.9,2.5],"nice":false,"zero":false},"axis":{"orient":"right","values":[1,1.2,1.4,1.6,1.8,2,2.2,2.4],"labels":false,"title":null}}}},
  {"mark":{"type":"point","opacity":0},"encoding":{
   "x":{"field":"x","type":"quantitative","scale":{"domain":[0,1470],"nice":false,"zero":false},"axis":{"orient":"bottom","values":[0,50,100,150,200,250,300,350,400,450,500,550,600,650,700,750,800,850,900,950,1000,1050,1100,1150,1200,1250,1300,1350,1400,1450],"labels":false,"title":null,"tickSize":-3.5}},
   "y":{"field":"y","type":"quantitative","scale":{"domain":[0.9,2.5],"nice":false,"zero":false},"axis":{"orient":"left","values":[0.9,0.95,1,1.05,1.1,1.15,1.2,1.25,1.3,1.35,1.4,1.45,1.5,1.55,1.6,1.65,1.7,1.75,1.8,1.85,1.9,1.95,2,2.05,2.1,2.15,2.2,2.25,2.3,2.35,2.4,2.45,2.5],"labels":false,"title":null,"tickSize":-3.5}}}},
  {"mark":{"type":"point","opacity":0},"encoding":{
   "x":{"field":"x","type":"quantitative","scale":{"domain":[0,1470],"nice":false,"zero":false},"axis":{"orient":"top","values":[0,50,100,150,200,250,300,350,400,450,500,550,600,650,700,750,800,850,900,950,1000,1050,1100,1150,1200,1250,1300,1350,1400,1450],"labels":false,"title":null,"tickSize":-3.5}},
   "y":{"field":"y","type":"quantitative","scale":{"domain":[0.9,2.5],"nice":false,"zero":false},"axis":{"orient":"right","values":[0.9,0.95,1,1.05,1.1,1.15,1.2,1.25,1.3,1.35,1.4,1.45,1.5,1.55,1.6,1.65,1.7,1.75,1.8,1.85,1.9,1.95,2,2.05,2.1,2.15,2.2,2.25,2.3,2.35,2.4,2.45,2.5],"labels":false,"title":null,"tickSize":-3.5}}}}
 ],
 "resolve":{"axis":{"x":"independent","y":"independent"}}},
{"width":243,"height":181,"title":"ATLAS 2010 7 TeV, 1.2<|η|<2.1","data":{"name":"p4"},
 "layer":[
  {"mark":{"type":"line","clip":true},"encoding":{
   "x":{"field":"x","type":"quantitative","scale":{"domain":[0,1220],"nice":false,"zero":false},"axis":{"values":[0,200,400,600,800,1000,1200],"title":"pₜ (GeV)","titleX":77}},
   "y":{"field":"y","type":"quantitative","scale":{"domain":[0.9,3],"nice":false,"zero":false},"axis":{"values":[1,1.5,2,2.5,3],"grid":true,"title":"Ratio","titleX":-16,"titleBaseline":"middle"}},
   "color":{"field":"s","type":"nominal","scale":{"domain":["(NLO/LO) exact","(NLO NJA)/(NLO exact)","(NLO threshold)/(NLO exact)","(NNLO/NLO) threshold","(NNLO/NLO) exact","(NNLO thr)/(NLO exact)"],"range":["#000000","#ff0000","#00ee00","#cc33ff","#000000","#7a2ed6"]},"legend":{"title":null,"orient":"none","legendX":13,"legendY":4}},
   "strokeDash":{"field":"s","type":"nominal","scale":{"domain":["(NLO/LO) exact","(NLO NJA)/(NLO exact)","(NLO threshold)/(NLO exact)","(NNLO/NLO) threshold","(NNLO/NLO) exact","(NNLO thr)/(NLO exact)"],"range":[[1.5,1.5],[1.5,1.5],[1.5,1.5],[10,3.5],[10,3.5],[10,3.5]]},"legend":{"title":null,"orient":"none","legendX":13,"legendY":4}}}},
  {"mark":{"type":"point","opacity":0},"encoding":{
   "x":{"field":"x","type":"quantitative","scale":{"domain":[0,1220],"nice":false,"zero":false},"axis":{"orient":"top","values":[0,200,400,600,800,1000,1200],"labels":false,"title":null}},
   "y":{"field":"y","type":"quantitative","scale":{"domain":[0.9,3],"nice":false,"zero":false},"axis":{"orient":"right","values":[1,1.5,2,2.5,3],"labels":false,"title":null}}}},
  {"mark":{"type":"point","opacity":0},"encoding":{
   "x":{"field":"x","type":"quantitative","scale":{"domain":[0,1220],"nice":false,"zero":false},"axis":{"orient":"bottom","values":[0,50,100,150,200,250,300,350,400,450,500,550,600,650,700,750,800,850,900,950,1000,1050,1100,1150,1200],"labels":false,"title":null,"tickSize":-3.5}},
   "y":{"field":"y","type":"quantitative","scale":{"domain":[0.9,3],"nice":false,"zero":false},"axis":{"orient":"left","values":[0.9,1,1.1,1.2,1.3,1.4,1.5,1.6,1.7,1.8,1.9,2,2.1,2.2,2.3,2.4,2.5,2.6,2.7,2.8,2.9,3],"labels":false,"title":null,"tickSize":-3.5}}}},
  {"mark":{"type":"point","opacity":0},"encoding":{
   "x":{"field":"x","type":"quantitative","scale":{"domain":[0,1220],"nice":false,"zero":false},"axis":{"orient":"top","values":[0,50,100,150,200,250,300,350,400,450,500,550,600,650,700,750,800,850,900,950,1000,1050,1100,1150,1200],"labels":false,"title":null,"tickSize":-3.5}},
   "y":{"field":"y","type":"quantitative","scale":{"domain":[0.9,3],"nice":false,"zero":false},"axis":{"orient":"right","values":[0.9,1,1.1,1.2,1.3,1.4,1.5,1.6,1.7,1.8,1.9,2,2.1,2.2,2.3,2.4,2.5,2.6,2.7,2.8,2.9,3],"labels":false,"title":null,"tickSize":-3.5}}}}
 ],
 "resolve":{"axis":{"x":"independent","y":"independent"}}},
{"width":243,"height":181,"title":"ATLAS 2010 7 TeV, 2.1<|η|<2.8","data":{"name":"p5"},
 "layer":[
  {"mark":{"type":"line","clip":true},"encoding":{
   "x":{"field":"x","type":"quantitative","scale":{"domain":[0,607],"nice":false,"zero":false},"axis":{"values":[0,100,200,300,400,500,600],"title":"pₜ (GeV)"}},
   "y":{"field":"y","type":"quantitative","scale":{"domain":[0.9,4.5],"nice":false,"zero":false},"axis":{"values":[1,1.5,2,2.5,3,3.5,4,4.5],"grid":true,"title":"Ratio","titleX":-16,"titleBaseline":"middle","titleAnchor":"end"}},
   "color":{"field":"s","type":"nominal","scale":{"domain":["(NLO/LO) exact","(NLO NJA)/(NLO exact)","(NLO threshold)/(NLO exact)","(NNLO/NLO) threshold","(NNLO/NLO) exact","(NNLO thr)/(NLO exact)"],"range":["#000000","#ff0000","#00ee00","#cc33ff","#000000","#7a2ed6"]},"legend":{"title":null,"orient":"none","legendX":13,"legendY":4}},
   "strokeDash":{"field":"s","type":"nominal","scale":{"domain":["(NLO/LO) exact","(NLO NJA)/(NLO exact)","(NLO threshold)/(NLO exact)","(NNLO/NLO) threshold","(NNLO/NLO) exact","(NNLO thr)/(NLO exact)"],"range":[[1.5,1.5],[1.5,1.5],[1.5,1.5],[10,3.5],[10,3.5],[10,3.5]]},"legend":{"title":null,"orient":"none","legendX":13,"legendY":4}}}},
  {"mark":{"type":"point","opacity":0},"encoding":{
   "x":{"field":"x","type":"quantitative","scale":{"domain":[0,607],"nice":false,"zero":false},"axis":{"orient":"top","values":[0,100,200,300,400,500,600],"labels":false,"title":null}},
   "y":{"field":"y","type":"quantitative","scale":{"domain":[0.9,4.5],"nice":false,"zero":false},"axis":{"orient":"right","values":[1,1.5,2,2.5,3,3.5,4,4.5],"labels":false,"title":null}}}},
  {"mark":{"type":"point","opacity":0},"encoding":{
   "x":{"field":"x","type":"quantitative","scale":{"domain":[0,607],"nice":false,"zero":false},"axis":{"orient":"bottom","values":[0,20,40,60,80,100,120,140,160,180,200,220,240,260,280,300,320,340,360,380,400,420,440,460,480,500,520,540,560,580,600],"labels":false,"title":null,"tickSize":-3.5}},
   "y":{"field":"y","type":"quantitative","scale":{"domain":[0.9,4.5],"nice":false,"zero":false},"axis":{"orient":"left","values":[0.9,1,1.1,1.2,1.3,1.4,1.5,1.6,1.7,1.8,1.9,2,2.1,2.2,2.3,2.4,2.5,2.6,2.7,2.8,2.9,3,3.1,3.2,3.3,3.4,3.5,3.6,3.7,3.8,3.9,4,4.1,4.2,4.3,4.4,4.5],"labels":false,"title":null,"tickSize":-3.5}}}},
  {"mark":{"type":"point","opacity":0},"encoding":{
   "x":{"field":"x","type":"quantitative","scale":{"domain":[0,607],"nice":false,"zero":false},"axis":{"orient":"top","values":[0,20,40,60,80,100,120,140,160,180,200,220,240,260,280,300,320,340,360,380,400,420,440,460,480,500,520,540,560,580,600],"labels":false,"title":null,"tickSize":-3.5}},
   "y":{"field":"y","type":"quantitative","scale":{"domain":[0.9,4.5],"nice":false,"zero":false},"axis":{"orient":"right","values":[0.9,1,1.1,1.2,1.3,1.4,1.5,1.6,1.7,1.8,1.9,2,2.1,2.2,2.3,2.4,2.5,2.6,2.7,2.8,2.9,3,3.1,3.2,3.3,3.4,3.5,3.6,3.7,3.8,3.9,4,4.1,4.2,4.3,4.4,4.5],"labels":false,"title":null,"tickSize":-3.5}}}}
 ],
 "resolve":{"axis":{"x":"independent","y":"independent"}}},
{"width":239,"height":181,"title":"ATLAS 2010 7 TeV, 2.8<|η|<3.6","data":{"name":"p6"},
 "layer":[
  {"mark":{"type":"line","clip":true},"encoding":{
   "x":{"field":"x","type":"quantitative","scale":{"domain":[0,309],"nice":false,"zero":false},"axis":{"values":[0,50,100,150,200,250,300],"title":"pₜ (GeV)"}},
   "y":{"field":"y","type":"quantitative","scale":{"domain":[0,6],"nice":false,"zero":false},"axis":{"values":[0,1,2,3,4,5,6],"grid":true,"title":"Ratio","titleX":-16,"titleBaseline":"middle"}},
   "color":{"field":"s","type":"nominal","scale":{"domain":["(NLO/LO) exact","(NLO NJA)/(NLO exact)","(NLO threshold)/(NLO exact)","(NNLO/NLO) threshold","(NNLO/NLO) exact","(NNLO thr)/(NLO exact)"],"range":["#000000","#ff0000","#00ee00","#cc33ff","#000000","#7a2ed6"]},"legend":{"title":null,"orient":"none","legendX":13,"legendY":4}},
   "strokeDash":{"field":"s","type":"nominal","scale":{"domain":["(NLO/LO) exact","(NLO NJA)/(NLO exact)","(NLO threshold)/(NLO exact)","(NNLO/NLO) threshold","(NNLO/NLO) exact","(NNLO thr)/(NLO exact)"],"range":[[1.5,1.5],[1.5,1.5],[1.5,1.5],[10,3.5],[10,3.5],[10,3.5]]},"legend":{"title":null,"orient":"none","legendX":13,"legendY":4}}}},
  {"mark":{"type":"point","opacity":0},"encoding":{
   "x":{"field":"x","type":"quantitative","scale":{"domain":[0,309],"nice":false,"zero":false},"axis":{"orient":"top","values":[0,50,100,150,200,250,300],"labels":false,"title":null}},
   "y":{"field":"y","type":"quantitative","scale":{"domain":[0,6],"nice":false,"zero":false},"axis":{"orient":"right","values":[0,1,2,3,4,5,6],"labels":false,"title":null}}}},
  {"mark":{"type":"point","opacity":0},"encoding":{
   "x":{"field":"x","type":"quantitative","scale":{"domain":[0,309],"nice":false,"zero":false},"axis":{"orient":"bottom","values":[0,10,20,30,40,50,60,70,80,90,100,110,120,130,140,150,160,170,180,190,200,210,220,230,240,250,260,270,280,290,300],"labels":false,"title":null,"tickSize":-3.5}},
   "y":{"field":"y","type":"quantitative","scale":{"domain":[0,6],"nice":false,"zero":false},"axis":{"orient":"left","values":[0,0.2,0.4,0.6,0.8,1,1.2,1.4,1.6,1.8,2,2.2,2.4,2.6,2.8,3,3.2,3.4,3.6,3.8,4,4.2,4.4,4.6,4.8,5,5.2,5.4,5.6,5.8,6],"labels":false,"title":null,"tickSize":-3.5}}}},
  {"mark":{"type":"point","opacity":0},"encoding":{
   "x":{"field":"x","type":"quantitative","scale":{"domain":[0,309],"nice":false,"zero":false},"axis":{"orient":"top","values":[0,10,20,30,40,50,60,70,80,90,100,110,120,130,140,150,160,170,180,190,200,210,220,230,240,250,260,270,280,290,300],"labels":false,"title":null,"tickSize":-3.5}},
   "y":{"field":"y","type":"quantitative","scale":{"domain":[0,6],"nice":false,"zero":false},"axis":{"orient":"right","values":[0,0.2,0.4,0.6,0.8,1,1.2,1.4,1.6,1.8,2,2.2,2.4,2.6,2.8,3,3.2,3.4,3.6,3.8,4,4.2,4.4,4.6,4.8,5,5.2,5.4,5.6,5.8,6],"labels":false,"title":null,"tickSize":-3.5}}}}
 ],
 "resolve":{"axis":{"x":"independent","y":"independent"}}}
]
}
